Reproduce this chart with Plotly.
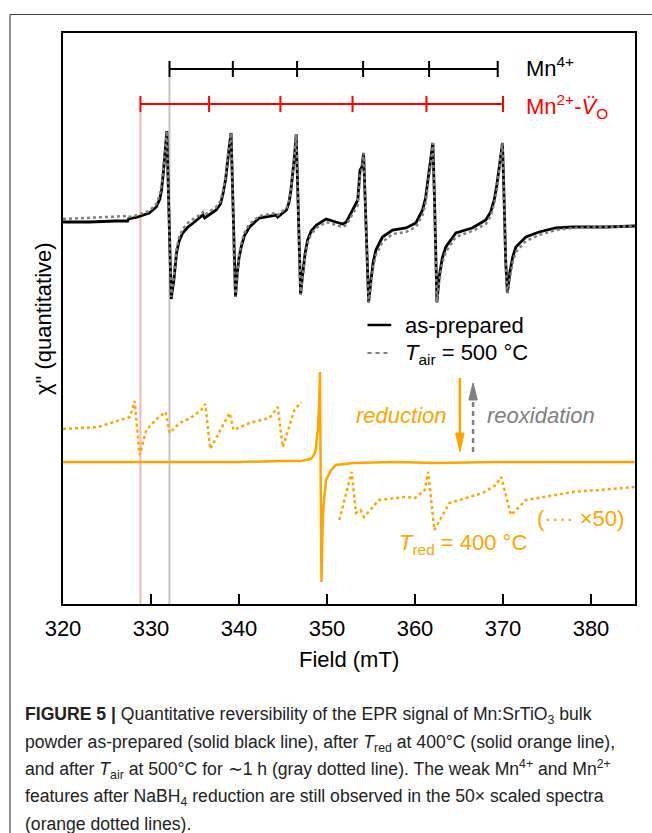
import plotly.graph_objects as go

# ---------------- data (field in mT, intensity in arbitrary units) ----------------
FIELD = [320.0, 323.0, 326.0, 327.35, 327.45, 328.5, 329.8, 330.6, 331.0, 331.2, 331.4, 331.5,
         331.65, 331.8, 332.0, 332.2, 332.3, 332.45, 332.6, 332.9, 333.2, 333.6, 334.2, 334.8,
         335.7, 335.9, 336.1, 337.4, 337.9, 338.2, 338.5, 338.7, 338.9, 339.1, 339.3, 339.45,
         339.6, 339.8, 340.0, 340.25, 340.6, 341.2, 342.3, 344.2, 344.4, 345.4, 345.7, 345.9,
         346.1, 346.3, 346.5, 346.7, 346.9, 347.0, 347.25, 347.5, 347.8, 348.2, 348.8, 349.9,
         351.0, 351.8, 352.2, 352.9, 353.5, 353.75, 353.97, 354.16, 354.35, 354.54, 354.73,
         355.0, 355.25, 355.56, 356.3, 357.45, 358.97, 360.1, 360.86, 361.2, 361.43, 361.8,
         362.03, 362.22, 362.37, 362.49, 362.75, 363.1, 363.5, 364.64, 366.5, 368.05, 368.6,
         369.0, 369.3, 369.56, 369.94, 370.13, 370.3, 370.5, 370.77, 371.1, 371.46, 372.6,
         374.1, 376.0, 377.9, 381.7, 385.0]

AS_PREPARED = [-0.01, -0.01, 0.0, 0.0, 0.02, 0.04, 0.08, 0.14, 0.22, 0.31, 0.48, 0.61,
               0.78, 0.90, 0.21, -0.46, -0.78, -0.68, -0.59, -0.32, -0.20, -0.12, -0.06, -0.02,
               0.04, 0.06, 0.03, 0.11, 0.17, 0.28, 0.43, 0.61, 0.75, 0.88, 0.21, -0.46,
               -0.76, -0.52, -0.37, -0.26, -0.15, -0.06, 0.03, 0.06, 0.04, 0.11, 0.19, 0.31,
               0.46, 0.64, 0.87, 0.21, -0.39, -0.73, -0.52, -0.33, -0.19, -0.10, -0.04, 0.02,
               -0.01, -0.03, -0.01, 0.11, 0.21, 0.51, 0.54, 0.68, 0.21, -0.46, -0.81,
               -0.59, -0.41, -0.29, -0.16, -0.09, -0.07, -0.02, 0.11, 0.23, 0.38, 0.61,
               0.78, 0.21, -0.46, -0.81, -0.56, -0.37, -0.26, -0.12, -0.07, 0.01, 0.09,
               0.21, 0.36, 0.54, 0.78, 0.21, -0.39, -0.72, -0.52, -0.36, -0.26, -0.16,
               -0.11, -0.07, -0.06, -0.06, -0.05]

T_AIR_500 = [0.02, 0.03, 0.04, 0.05, 0.04, 0.06, 0.10, 0.17, 0.26, 0.36, 0.51, 0.63,
             0.78, 0.90, 0.18, -0.48, -0.76, -0.65, -0.55, -0.28, -0.16, -0.08, -0.02, 0.02,
             0.07, 0.09, 0.06, 0.14, 0.20, 0.31, 0.46, 0.63, 0.76, 0.88, 0.18, -0.48,
             -0.76, -0.50, -0.34, -0.23, -0.12, -0.03, 0.05, 0.08, 0.06, 0.13, 0.21, 0.33,
             0.48, 0.65, 0.87, 0.18, -0.42, -0.74, -0.55, -0.37, -0.22, -0.13, -0.07, -0.01,
             -0.04, -0.06, -0.04, 0.06, 0.16, 0.45, 0.52, 0.68, 0.18, -0.48, -0.82,
             -0.63, -0.46, -0.34, -0.21, -0.13, -0.11, -0.06, 0.06, 0.18, 0.33, 0.58,
             0.78, 0.18, -0.48, -0.82, -0.60, -0.42, -0.31, -0.16, -0.10, -0.03, 0.05,
             0.17, 0.32, 0.50, 0.78, 0.18, -0.42, -0.72, -0.56, -0.41, -0.31, -0.20,
             -0.14, -0.09, -0.07, -0.06, -0.05]

FIELD_RED = [320.0, 330.0, 340.0, 345.0, 347.0, 347.6, 348.1, 348.4, 348.7, 348.96, 349.1,
             349.2, 349.3, 349.37, 349.5, 349.6, 349.9, 350.4, 351.0, 353.0, 357.6, 362.4,
             369.2, 375.0, 385.0]
T_RED_400 = [-2.41, -2.41, -2.41, -2.40, -2.40, -2.39, -2.38, -2.36, -2.30, -2.09, -1.85,
             -1.51, -2.60, -3.61, -3.05, -2.85, -2.59, -2.50, -2.44, -2.42, -2.41, -2.42,
             -2.41, -2.41, -2.41]

FIELD_X50_LOW = [320.0, 322.0, 324.0, 326.5, 327.6, 328.14, 328.71, 329.47, 330.5, 331.66,
                 332.12, 333.25, 334.5, 335.7, 336.17, 336.73, 338.93, 339.38, 341.2,
                 343.47, 344.4, 344.98, 346.3, 347.06]
T_RED_X50_LOW = [-2.08, -2.07, -2.06, -1.99, -1.96, -1.80, -2.34, -2.09, -1.99, -1.91,
                 -2.12, -2.02, -1.97, -1.89, -1.83, -2.28, -1.92, -2.09, -2.02,
                 -1.97, -1.86, -2.26, -1.89, -1.81]

FIELD_X50_HIGH = [351.4, 352.8, 353.3, 353.8, 354.2, 355.9, 358.9, 360.0, 361.1, 361.5,
                  362.2, 363.9, 367.7, 369.2, 369.8, 370.9, 372.6, 377.9, 385.0]
T_RED_X50_HIGH = [-2.99, -2.51, -2.92, -2.89, -2.96, -2.79, -2.76, -2.77, -2.69, -2.51,
                  -3.09, -2.82, -2.72, -2.64, -2.56, -2.94, -2.79, -2.71, -2.66]

MN4_LINES = [332.1, 339.3, 346.6, 354.1, 361.6, 369.4]
MN2_LINES = [328.8, 336.6, 344.7, 352.9, 361.3, 370.0]
X_TICKS = [320, 330, 340, 350, 360, 370, 380]

# ---------------- styling ----------------
FONT = "Liberation Sans, Arial, Helvetica, sans-serif"
ORANGE = "#FFA500"
RED = "#FF0000"
GRAY = "#808080"
X_RANGE = [320, 385]
Y_RANGE = [-3.83, 1.88]
MN4_LEVEL, MN2_LEVEL, CAP = 1.52, 1.17, 0.08

W, H = 652, 833
ML, MR, MT, MB = 63, 17, 33, 229
PW, PH = W - ML - MR, H - MT - MB


def paper(px, py):
    return (px - ML) / PW, (H - MB - py) / PH


fig = go.Figure()
fig.add_trace(go.Scatter(x=FIELD_RED, y=T_RED_400, mode="lines",
                         line=dict(color=ORANGE, width=2.5)))
fig.add_trace(go.Scatter(x=FIELD_X50_LOW, y=T_RED_X50_LOW, mode="lines",
                         line=dict(color=ORANGE, width=2.5, dash="dot")))
fig.add_trace(go.Scatter(x=FIELD_X50_HIGH, y=T_RED_X50_HIGH, mode="lines",
                         line=dict(color=ORANGE, width=2.5, dash="dot")))
fig.add_trace(go.Scatter(x=FIELD, y=AS_PREPARED, mode="lines",
                         line=dict(color="black", width=2.8)))
fig.add_trace(go.Scatter(x=FIELD, y=T_AIR_500, mode="lines",
                         line=dict(color=GRAY, width=2.5, dash="dot")))

shapes = []
# vertical reference lines
shapes.append(dict(type="line", x0=MN2_LINES[0], x1=MN2_LINES[0], y0=Y_RANGE[0], y1=MN2_LEVEL - CAP,
                   line=dict(color="#F7B5B5", width=2), layer="below"))
shapes.append(dict(type="line", x0=MN4_LINES[0], x1=MN4_LINES[0], y0=Y_RANGE[0], y1=MN4_LEVEL - CAP,
                   line=dict(color="#C4C4C4", width=2), layer="below"))
# stick diagrams
for lines, level, col in [(MN4_LINES, MN4_LEVEL, "black"), (MN2_LINES, MN2_LEVEL, RED)]:
    shapes.append(dict(type="line", x0=lines[0], x1=lines[-1], y0=level, y1=level,
                       line=dict(color=col, width=2)))
    for v in lines:
        shapes.append(dict(type="line", x0=v, x1=v, y0=level - CAP, y1=level + CAP,
                           line=dict(color=col, width=2)))
# legend samples
shapes.append(dict(type="line", x0=354.6, x1=357.3, y0=-1.04, y1=-1.04, line=dict(color="black", width=2.5)))
shapes.append(dict(type="line", x0=354.6, x1=357.3, y0=-1.32, y1=-1.32,
                   line=dict(color=GRAY, width=2, dash="4px,4px")))
# reduction arrow (down, orange)
shapes.append(dict(type="line", x0=365.1, x1=365.1, y0=-1.57, y1=-2.15, line=dict(color=ORANGE, width=2.5)))
shapes.append(dict(type="path", path="M 364.62,-2.12 L 365.58,-2.12 L 365.1,-2.31 Z",
                   fillcolor=ORANGE, line=dict(color=ORANGE, width=1)))
# reoxidation arrow (up, gray dashed)
shapes.append(dict(type="line", x0=366.6, x1=366.6, y0=-2.31, y1=-1.78,
                   line=dict(color=GRAY, width=2.5, dash="5px,4px")))
shapes.append(dict(type="path", path="M 366.12,-1.79 L 367.08,-1.79 L 366.6,-1.62 Z",
                   fillcolor=GRAY, line=dict(color=GRAY, width=1)))
# outer figure frame (cut at right and bottom)
fx0, fy0 = paper(10, 14.5)
fx1, _ = paper(700, 0)
_, fy1 = paper(0, 900)
shapes.append(dict(type="line", xref="paper", yref="paper", x0=fx0, x1=fx1, y0=fy0, y1=fy0,
                   line=dict(color="#444444", width=1.2)))
shapes.append(dict(type="line", xref="paper", yref="paper", x0=fx0, x1=fx0, y0=fy0, y1=fy1,
                   line=dict(color="#444444", width=1.2)))

ann = []


def txt(x, y, text, color="black", size=22, xanchor="left", ref="data", **kw):
    d = dict(x=x, y=y, text=text, showarrow=False, xanchor=xanchor, yanchor="middle",
             font=dict(family=FONT, size=size, color=color), **kw)
    if ref == "paper":
        d.update(xref="paper", yref="paper")
    return d


ann.append(txt(372.4, MN4_LEVEL + 0.02, "Mn<sup>4+</sup>"))
ann.append(txt(372.4, MN2_LEVEL - 0.02, "Mn<sup>2+</sup>-<i>V̈</i><sub>O</sub>", color=RED))
ann.append(txt(358.6, -1.04, "as-prepared"))
ann.append(txt(358.6, -1.33, "<i>T</i><sub>air</sub> = 500 °C"))
ann.append(txt(363.9, -1.94, "<i>reduction</i>", color=ORANGE, xanchor="right"))
ann.append(txt(368.0, -1.94, "<i>reoxidation</i>", color=GRAY))
ann.append(txt(384.0, -2.97, "(···· ×50)", color=ORANGE, xanchor="right"))
ann.append(txt(358.0, -3.23, "<i>T</i><sub>red</sub> = 400 °C", color=ORANGE))
# axis titles
x, y = paper(349, 659)
ann.append(txt(x, y, "Field (mT)", xanchor="center", ref="paper"))
x, y = paper(43, 319)
ann.append(txt(x, y, "χ\" (quantitative)", xanchor="center", ref="paper", textangle=-90))

CAPTION = [
    "<b>FIGURE 5 |</b> Quantitative reversibility of the EPR signal of Mn:SrTiO<sub>3</sub> bulk",
    "powder as-prepared (solid black line), after <i>T</i><sub>red</sub> at 400°C (solid orange line),",
    "and after <i>T</i><sub>air</sub> at 500°C for ∼1 h (gray dotted line). The weak Mn<sup>4+</sup> and Mn<sup>2+</sup>",
    "features after NaBH<sub>4</sub> reduction are still observed in the 50× scaled spectra",
    "(orange dotted lines).",
]
for i, line in enumerate(CAPTION):
    x, y = paper(23, 716 + 27 * i)
    ann.append(txt(x, y, line, color="#222222", size=17.6, ref="paper"))

fig.update_layout(
    width=W, height=H, margin=dict(l=ML, r=MR, t=MT, b=MB),
    paper_bgcolor="white", plot_bgcolor="white", showlegend=False,
    font=dict(family=FONT, size=22, color="black"),
    shapes=shapes, annotations=ann,
    xaxis=dict(range=X_RANGE, tickvals=X_TICKS, ticks="inside", ticklen=10, tickwidth=2,
               tickcolor="black", showline=True, linewidth=2, linecolor="black", mirror=True,
               showgrid=False, zeroline=False, tickfont=dict(family=FONT, size=22),
               ticklabelstandoff=4),
    yaxis=dict(range=Y_RANGE, showticklabels=False, ticks="", showline=True, linewidth=2,
               linecolor="black", mirror=True, showgrid=False, zeroline=False),
)

fig.write_html("out.html")
